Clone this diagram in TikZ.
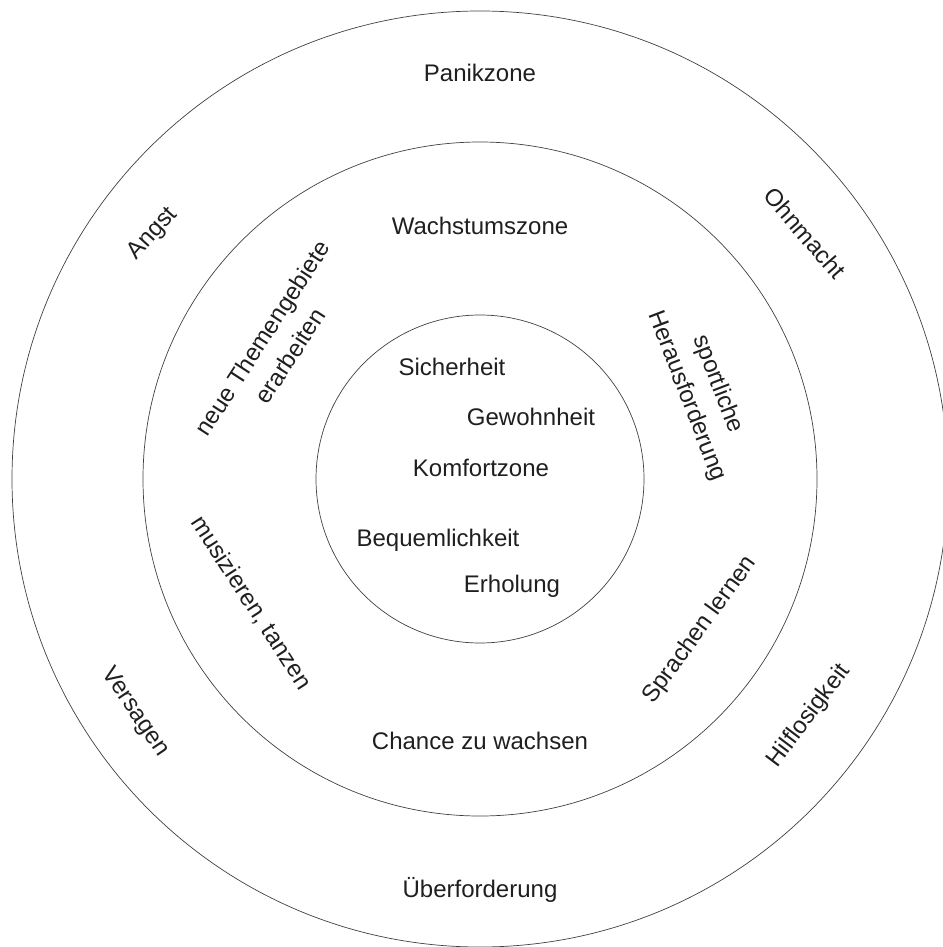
\documentclass[tikz,border=0pt]{standalone}
\usepackage{fontspec}
\setmainfont{Liberation Sans}
\tikzset{
  zone/.style={draw=black!75, line width=0.7pt},
  word/.style={inner sep=0pt, text=black!88, align=center,
    font=\fontsize{24}{33}\selectfont}
}
\begin{document}
\begin{tikzpicture}[x=1pt, y=-1pt]
  \useasboundingbox (0,0) rectangle (942,947);

  % rings
  \coordinate (mid) at (480,479);
  \foreach \r in {468, 337, 164} {
    \draw[zone] (mid) circle [radius=\r pt];
  }

  % zone titles
  \node[word] (panik)   at (480,73)  {Panikzone};
  \node[word] (wachs)   at (480,226) {Wachstumszone};
  \node[word] (komfort) at (481,468) {Komfortzone};
  \node[word] (chance)  at (480,741) {Chance zu wachsen};
  \node[word] (ueber)   at (480,890) {Überforderung};

  % comfort words
  \node[word] (sicher)  at (452,367) {Sicherheit};
  \node[word] (gewohn)  at (531,417) {Gewohnheit};
  \node[word] (bequem)  at (438,540) {Bequemlichkeit};
  \node[word] (erhol)   at (512,586) {Erholung};

  % rotated words
  \foreach \name/\x/\y/\rot/\txt in {
      angst/153/234/48/Angst,
      ohnmacht/805/233/-49/Ohnmacht,
      versagen/135/712/-56/Versagen,
      hilflos/809/716/53/Hilflosigkeit,
      themen/276/347/57/{neue Themengebiete\\erarbeiten},
      sport/702/390/-69/{sportliche\\Herausforderung},
      musik/251/603/-57/{musizieren, tanzen},
      sprache/700/630/54/{Sprachen lernen}} {
    \node[word, rotate=\rot] (\name) at (\x,\y) {\txt};
  }
\end{tikzpicture}
\end{document}
